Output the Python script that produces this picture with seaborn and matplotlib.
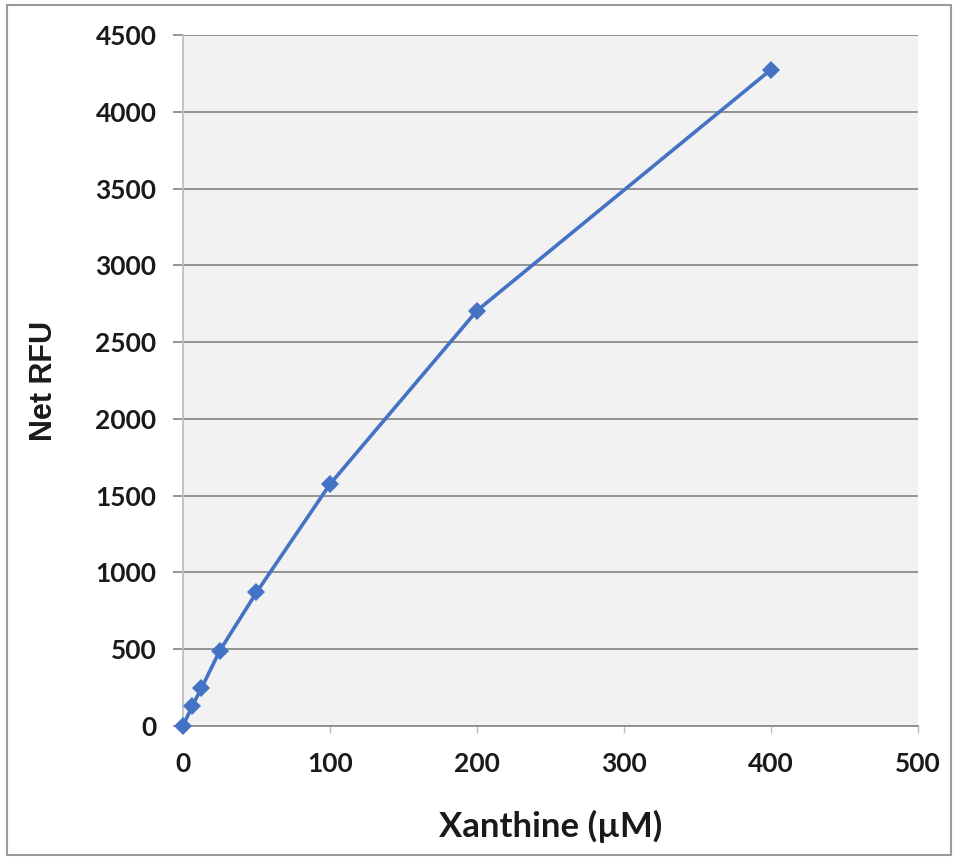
import matplotlib
matplotlib.use("Agg")
import matplotlib.pyplot as plt
import seaborn as sns
import pandas as pd
from matplotlib.patches import Rectangle

xanthine = [0, 6.25, 12.5, 25, 50, 100, 200, 400]
net_rfu = [0, 130, 245, 490, 870, 1575, 2705, 4275]
x_ticks = [0, 100, 200, 300, 400, 500]
y_ticks = [0, 500, 1000, 1500, 2000, 2500, 3000, 3500, 4000, 4500]

df = pd.DataFrame({"Xanthine": xanthine, "Net RFU": net_rfu})

sns.set_theme(style="white")
plt.rcParams['font.family'] = ['Lato', 'DejaVu Sans']

fig = plt.figure(figsize=(9.56, 8.58), dpi=100)
ax = fig.add_axes([0.1914, 0.1538, 0.7689, 0.8054])
ax.set_facecolor("#f2f2f2")

for y in y_ticks:
    ax.axhline(y, color="#8c8c8c", lw=1.3, zorder=1)

sns.lineplot(data=df, x="Xanthine", y="Net RFU", ax=ax, color="#4472C4",
             lw=2.6, marker="D", markersize=9.5, markeredgewidth=0,
             zorder=3, clip_on=False)

ax.set_xlim(0, 500)
ax.set_ylim(0, 4500)
ax.set_xticks(x_ticks)
ax.set_yticks(y_ticks)
ax.set_xticklabels([str(v) for v in x_ticks], fontsize=19, fontweight="bold", color="#1a1a1a")
ax.set_yticklabels([str(v) for v in y_ticks], fontsize=19, fontweight="bold", color="#1a1a1a")

for s in ["top", "right"]:
    ax.spines[s].set_visible(False)
ax.spines["left"].set_color("#bfbfbf")
ax.spines["left"].set_linewidth(1.3)
ax.spines["bottom"].set_color("#8c8c8c")
ax.spines["bottom"].set_linewidth(1.3)

ax.tick_params(axis="y", direction="out", length=7, width=1.3, color="#8c8c8c", pad=12, left=True)
ax.tick_params(axis="x", direction="out", length=5, width=1, color="#bfbfbf", pad=14, bottom=True)

ax.set_xlabel("Xanthine (µM)", fontsize=25, fontweight="bold", labelpad=24, color="#1a1a1a")
ax.set_ylabel("Net RFU", fontsize=22, fontweight="bold", labelpad=26, color="#1a1a1a",
              family=["Liberation Sans", "DejaVu Sans"])

fig.patches.append(Rectangle((0.007, 0.004), 0.988, 0.99, transform=fig.transFigure,
                             fill=False, edgecolor="#9a9a9a", lw=1.5))

fig.savefig("out.png", dpi=100)
